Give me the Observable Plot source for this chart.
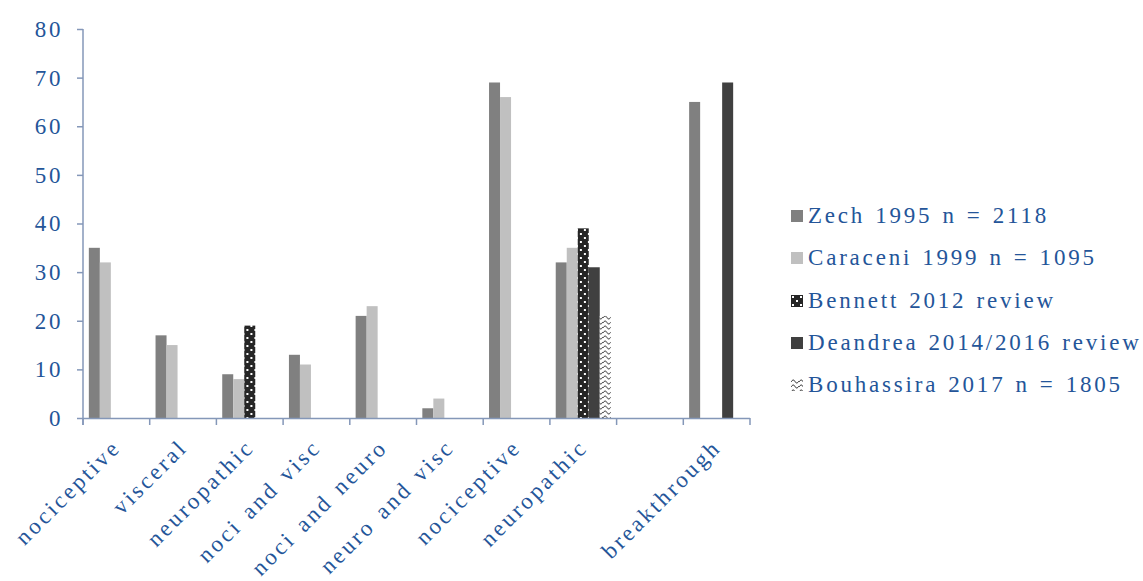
<!DOCTYPE html>
<html><head><meta charset="utf-8">
<script src="https://cdn.jsdelivr.net/npm/d3@7"></script>
<script src="https://cdn.jsdelivr.net/npm/@observablehq/plot@0.6"></script>
<style>
body{margin:0;background:#fff;}
#wrap{position:relative;width:1143px;height:581px;font-family:"Liberation Serif",serif;}
#legend{position:absolute;left:791px;top:195px;}
.row{display:flex;align-items:center;height:42.3px;font-size:23px;color:#245599;letter-spacing:2.8px;word-spacing:1.5px;white-space:nowrap;font-family:"Liberation Serif",serif;}
.sw{width:12px;height:12px;margin-right:5px;flex:none;}
</style></head><body>
<svg width="0" height="0" style="position:absolute"><defs>
<pattern id="dots" width="8" height="8" patternUnits="userSpaceOnUse"><rect width="8" height="8" fill="#262626"/><rect x="1" y="1" width="2" height="2" fill="#fff"/><rect x="5" y="5" width="2" height="2" fill="#fff"/></pattern>
<pattern id="wave" width="8" height="5" patternUnits="userSpaceOnUse"><rect width="8" height="5" fill="#fff"/><path d="M0,3 C1.5,0.5 3,0.5 4,2.5 S6.5,4.5 8,2" fill="none" stroke="#222" stroke-width="1"/></pattern>
</defs></svg>
<div id="wrap"><div id="chart"></div><div id="legend"></div></div>
<script>
const groups = ["nociceptive","visceral","neuropathic","noci and visc","noci and neuro","neuro and visc","nociceptive","neuropathic","","breakthrough"];
const series = ["Zech 1995 n = 2118","Caraceni 1999 n = 1095","Bennett 2012 review","Deandrea 2014/2016 review","Bouhassira 2017 n = 1805"];
const zech       = [35,17,9,13,21,2,69,32,null,65];
const caraceni   = [32,15,8,11,23,4,66,35,null,null];
const bennett    = [null,null,19,null,null,null,null,39,null,null];
const deandrea   = [null,null,null,null,null,null,null,31,null,69];
const bouhassira = [null,null,null,null,null,null,null,21,null,null];
const yTicks = [0,10,20,30,40,50,60,70,80];
const fills = ["#808080","#c0c0c0","url(#dots)","#404040","url(#wave)"];

const axisColor = "#8497b8";
const textColor = "#245599";
const fontFamily = '"Liberation Serif", serif';

const keys = groups.map((_, i) => "g" + i);
const labelOf = Object.fromEntries(keys.map((k, i) => [k, groups[i]]));
const seriesValues = [zech, caraceni, bennett, deandrea, bouhassira];
const table = [];
series.forEach((s, si) => seriesValues[si].forEach((v, gi) => { if (v != null) table.push({g: keys[gi], s, v}); }));

const chart = Plot.plot({
  width: 1143, height: 581,
  marginLeft: 83, marginRight: 393, marginTop: 29, marginBottom: 163,
  style: {fontFamily, fontSize: "23px", background: "transparent", letterSpacing: "2.9px", wordSpacing: "2px"},
  fx: {domain: keys, padding: 0, round: false, label: null},
  x: {domain: series, paddingInner: 0, paddingOuter: 0.53, round: false, axis: null},
  y: {domain: [0, 80], label: null},
  color: {domain: series, range: fills},
  marks: [
    Plot.barY(table, {fx: "g", x: "s", y: "v", fill: "s"}),
    Plot.ruleY(keys, {fx: d => d, y: () => 0, stroke: axisColor, strokeWidth: 1.5}),
    Plot.axisY({ticks: yTicks, tickSize: 6, tickPadding: 14, stroke: axisColor, strokeWidth: 1.5, fill: textColor, fontSize: 23, label: null}),
    Plot.axisFx({anchor: "bottom", tickSize: 0, tickPadding: 25, tickRotate: -45, tickFormat: k => labelOf[k], fill: textColor, fontSize: 23, label: null})
  ]
});
document.getElementById("chart").appendChild(chart);

// Excel-style category axis: axis line on the left, ticks at category boundaries
const fx = chart.scale("fx"), y = chart.scale("y");
const svg = d3.select(chart);
const y0 = y.apply(0), yTop = y.apply(80);
const bounds = keys.map(k => fx.apply(k)).concat([fx.apply(keys[keys.length - 1]) + fx.bandwidth]);
const g = svg.append("g").attr("stroke", axisColor).attr("stroke-width", 1.5);
g.append("line").attr("x1", bounds[0]).attr("x2", bounds[0]).attr("y1", yTop).attr("y2", y0 + 7);
bounds.forEach(b => g.append("line").attr("x1", b).attr("x2", b).attr("y1", y0).attr("y2", y0 + 7));

// legend
const legend = d3.select("#legend");
series.forEach((s, i) => {
  const row = legend.append("div").attr("class", "row");
  const sw = row.append("svg").attr("class", "sw").attr("width", 12).attr("height", 12);
  sw.append("rect").attr("width", 12).attr("height", 12).attr("fill", fills[i]);
  row.append("span").text(s);
});
</script>
</body></html>
